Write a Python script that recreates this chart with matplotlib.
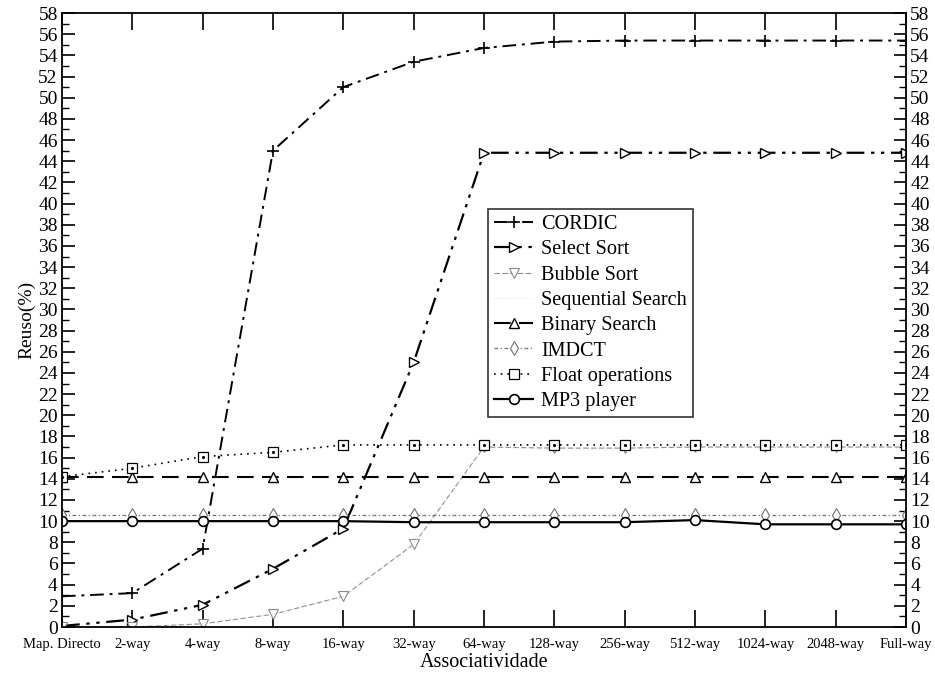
import numpy as np
import matplotlib
matplotlib.use("Agg")
import matplotlib.pyplot as plt
from matplotlib.ticker import MultipleLocator

plt.rcParams["font.family"] = ["Liberation Serif", "DejaVu Serif"]

categories = ["Map. Directo", "2-way", "4-way", "8-way", "16-way", "32-way", "64-way",
              "128-way", "256-way", "512-way", "1024-way", "2048-way", "Full-way"]

cordic     = [2.9, 3.2, 7.4, 45.0, 51.0, 53.4, 54.7, 55.3, 55.4, 55.4, 55.4, 55.4, 55.4]
select     = [0.1, 0.7, 2.1, 5.5, 9.3, 25.0, 44.8, 44.8, 44.8, 44.8, 44.8, 44.8, 44.8]
bubble     = [0.0, 0.0, 0.3, 1.2, 2.9, 7.8, 17.0, 16.9, 16.9, 17.0, 17.0, 17.0, 17.0]
sequential = [0.0, 0.0, 0.3, 1.2, 2.9, 7.8, 17.0, 17.0, 17.0, 17.0, 17.0, 17.0, 17.0]
binary     = [14.2, 14.2, 14.2, 14.2, 14.2, 14.2, 14.2, 14.2, 14.2, 14.2, 14.2, 14.2, 14.2]
imdct      = [10.6, 10.6, 10.6, 10.6, 10.6, 10.6, 10.6, 10.6, 10.6, 10.6, 10.6, 10.6, 10.6]
floatops   = [14.2, 15.0, 16.1, 16.5, 17.2, 17.2, 17.2, 17.2, 17.2, 17.2, 17.2, 17.2, 17.2]
mp3        = [10.0, 10.0, 10.0, 10.0, 10.0, 9.9, 9.9, 9.9, 9.9, 10.1, 9.7, 9.7, 9.7]

x = np.arange(len(categories))

fig = plt.figure(figsize=(9.35, 6.75), dpi=100)
ax = fig.add_axes([0.0663, 0.0711, 0.9027, 0.9096])

ax.plot(x, cordic, color="black", lw=1.4, ls=(0, (7, 3, 1.5, 3)),
        marker="+", ms=8, mew=1.2, label="CORDIC")
ax.plot(x, select, color="black", lw=1.6, ls=(0, (8, 3, 1.5, 3, 1.5, 3)),
        marker=">", ms=7, mfc="white", mew=1.0, label="Select Sort")
ax.plot(x, bubble, color="#8a8a8a", lw=0.8, ls=(0, (5, 2)),
        marker="v", ms=7, mfc="white", mew=0.8, label="Bubble Sort")
ax.plot(x, sequential, color="#d5d5d5", lw=0.7, ls=(0, (1, 3)),
        label="Sequential Search")
ax.plot(x, binary, color="black", lw=1.5, ls=(0, (8, 4)),
        marker="^", ms=7, mfc="white", mew=1.0, label="Binary Search")
ax.plot(x, imdct, color="#707070", lw=0.9, ls=(0, (3, 2, 1, 2)),
        marker="d", ms=7, mfc="white", mew=0.8, label="IMDCT")
ax.plot(x, floatops, color="black", lw=1.2, ls=(0, (1, 3)),
        marker="s", ms=7, mfc="white", mew=0.9, label="Float operations")
ax.plot(x, floatops, ls="none", marker=".", ms=2.5, color="black")
ax.plot(x, mp3, color="black", lw=1.6, ls="-",
        marker="o", ms=7, mfc="white", mew=1.2, label="MP3 player")

ax.set_xlim(0, len(categories) - 1)
ax.set_ylim(0, 58)
ax.set_xticks(x)
ax.set_xticklabels(categories, fontsize=10.5)
ax.yaxis.set_major_locator(MultipleLocator(2))
ax.yaxis.set_minor_locator(MultipleLocator(1))
ax.tick_params(axis="y", which="major", direction="in", length=9, width=1.2,
               left=True, right=True, labelleft=True, labelright=True, labelsize=14,
               pad=3)
ax.tick_params(axis="y", which="minor", direction="in", length=5, width=1.0,
               left=True, right=True)
ax.tick_params(axis="x", direction="in", length=12, width=1.2, top=True, bottom=True,
               pad=8)
for s in ax.spines.values():
    s.set_linewidth(1.3)

ax.set_xlabel("Associatividade", fontsize=14.5, labelpad=1)
ax.set_ylabel("Reuso(%)", fontsize=14, labelpad=2)

leg = ax.legend(loc="upper left", bbox_to_anchor=(0.505, 0.681), fontsize=14.6,
                frameon=True, fancybox=False, edgecolor="black", handlelength=1.9,
                handletextpad=0.4, borderpad=0.3, labelspacing=0.3, borderaxespad=0)
leg.get_frame().set_linewidth(1.2)

fig.savefig("out.png", dpi=100)
